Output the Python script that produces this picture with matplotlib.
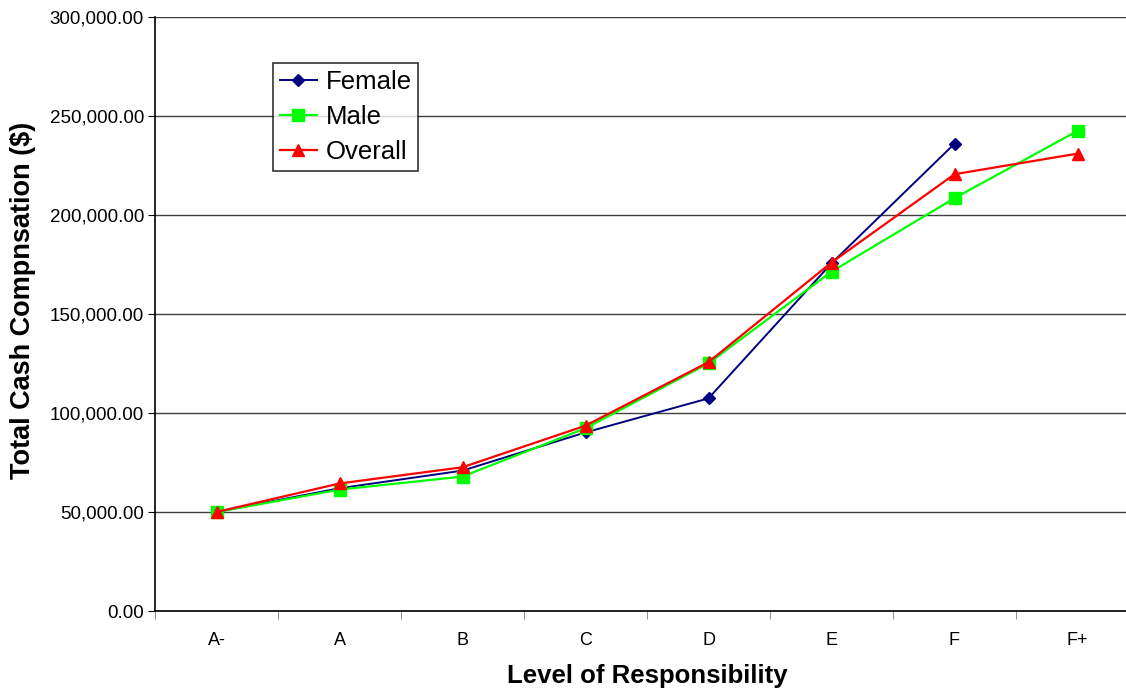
import matplotlib
matplotlib.use("Agg")
import matplotlib.pyplot as plt
from matplotlib.ticker import FuncFormatter, FixedLocator

plt.rcParams['font.family'] = ['Liberation Sans', 'DejaVu Sans']

# data
levels = ["A-", "A", "B", "C", "D", "E", "F", "F+"]
female = [50000, 62000, 70900, 90200, 107400, 175600, 236000]
male = [50000, 61300, 67900, 92300, 125100, 171400, 208500, 242500]
overall = [50000, 64400, 72600, 93600, 125700, 176000, 220600, 231000]

x = list(range(len(levels)))

fig = plt.figure(figsize=(11.26, 6.9), dpi=100)
ax = fig.add_axes([155 / 1126, 79 / 690, 984 / 1126, 594 / 690])

ax.plot(x[:len(female)], female, color="#000080", marker="D", markersize=6,
        linewidth=1.4, label="Female", zorder=3)
ax.plot(x, male, color="#00FF00", marker="s", markersize=8,
        linewidth=1.6, label="Male", zorder=4)
ax.plot(x, overall, color="#FF0000", marker="^", markersize=9,
        linewidth=1.6, label="Overall", zorder=5)

ax.set_xlim(-0.5, len(levels) - 0.5)
ax.set_ylim(0, 300000)
ax.set_yticks(range(0, 300001, 50000))
ax.yaxis.set_major_formatter(FuncFormatter(lambda v, p: f"{v:,.2f}"))
ax.grid(axis="y", color="#404040", linewidth=1)
ax.set_axisbelow(True)

ax.set_xticks(x)
ax.set_xticklabels(levels)
ax.xaxis.set_minor_locator(FixedLocator([i - 0.5 for i in range(len(levels) + 1)]))
ax.tick_params(axis="x", which="major", length=0, pad=15, labelsize=13)
ax.tick_params(axis="x", which="minor", length=6, color="#808080")
ax.tick_params(axis="y", length=5, labelsize=13.5, pad=3)

for s in ["top", "right"]:
    ax.spines[s].set_visible(False)
ax.spines["left"].set_linewidth(1.2)
ax.spines["bottom"].set_linewidth(1.2)

ax.set_xlabel("Level of Responsibility", fontsize=18.5, fontweight="bold", labelpad=11)
ax.set_ylabel("Total Cash Compnsation ($)", fontsize=19.5, fontweight="bold")
ax.yaxis.set_label_coords(-0.121, 0.523)

leg = ax.legend(loc="upper left", bbox_to_anchor=(0.12, 0.922), fontsize=18.5,
                frameon=True, fancybox=False, edgecolor="black", borderpad=0.25,
                handlelength=1.45, handletextpad=0.35, labelspacing=0.44,
                borderaxespad=0)
leg.get_frame().set_linewidth(1.2)

fig.savefig("out.png", dpi=100)
